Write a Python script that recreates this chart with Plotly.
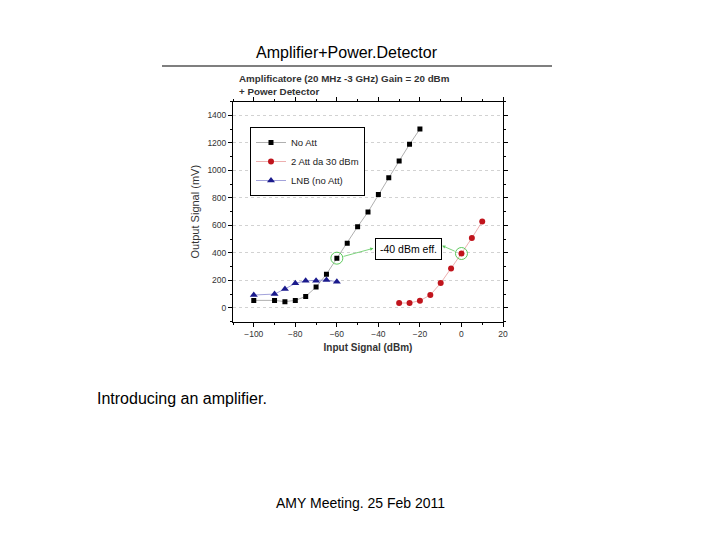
import plotly.graph_objects as go

# Input signal (dBm) and output signal (mV)
no_att_x = [-100, -90, -85, -80, -75, -70, -65, -60, -55, -50, -45, -40, -35, -30, -25, -20]
no_att_y = [55, 55, 46, 55, 84, 152, 246, 362, 470, 591, 698, 825, 946, 1069, 1190, 1301]

att_x = [-30, -25, -20, -15, -10, -5, 0, 5, 10]
att_y = [36, 36, 53, 94, 181, 287, 396, 509, 628]

lnb_x = [-100, -90, -85, -80, -75, -70, -65, -60]
lnb_y = [94, 101, 138, 179, 198, 198, 203, 191]

FONT = "Arial, Liberation Sans, sans-serif"

fig = go.Figure()

fig.add_trace(go.Scatter(x=no_att_x, y=no_att_y, name="No Att", mode="lines+markers",
                         line=dict(color="#9a9a9a", width=0.8),
                         marker=dict(symbol="square", size=5, color="black")))
fig.add_trace(go.Scatter(x=att_x, y=att_y, name="2 Att da 30 dBm", mode="lines+markers",
                         line=dict(color="#e89a9a", width=0.8),
                         marker=dict(symbol="circle", size=6, color="#c0141c")))
fig.add_trace(go.Scatter(x=lnb_x, y=lnb_y, name="LNB (no Att)", mode="lines+markers",
                         line=dict(color="#8a8ad0", width=0.8),
                         marker=dict(symbol="triangle-up", size=7, color="#1a1a8c")))

# green rings around the two points at the same effective input
fig.add_trace(go.Scatter(x=[no_att_x[7], att_x[6]], y=[no_att_y[7], att_y[6]], mode="markers",
                         marker=dict(symbol="circle-open", size=12, color="#5cc85c", line=dict(width=1)),
                         showlegend=False, hoverinfo="skip"))

tickfont = dict(family=FONT, size=8.5, color="#333")
fig.update_layout(
    template="none",
    width=720, height=540,
    paper_bgcolor="white", plot_bgcolor="white",
    margin=dict(l=0, r=0, t=0, b=0, pad=0),
    showlegend=True,
    legend=dict(x=250 / 720, y=1 - 127 / 540, xanchor="left", yanchor="top",
                bordercolor="black", borderwidth=1, bgcolor="white",
                font=dict(family=FONT, size=9.5, color="#222"),
                tracegroupgap=0, itemwidth=30),
    xaxis=dict(domain=[233 / 720, 503 / 720], range=[-110, 20], dtick=20, tick0=0, automargin=False,
               ticks="outside", ticklen=4, tickcolor="black", showline=True, linecolor="black",
               linewidth=1, mirror="allticks", showgrid=False, zeroline=False, tickfont=tickfont,
               minor=dict(ticks="outside", ticklen=2, dtick=10, tickcolor="black"),
               title=dict(text="<b>Input Signal (dBm)</b>", font=dict(family=FONT, size=10, color="#333"),
                          standoff=6)),
    yaxis=dict(domain=[1 - 321.7 / 540, 1 - 101.7 / 540], range=[-100, 1500], dtick=200, tick0=0,
               automargin=False, mirror="allticks",
               ticks="outside", ticklen=4, tickcolor="black", showline=True, linecolor="black",
               linewidth=1, showgrid=True, gridcolor="#d2d2d2", griddash="dot", gridwidth=1,
               zeroline=False, tickfont=tickfont,
               minor=dict(ticks="outside", ticklen=2, dtick=100, tickcolor="black"),
               title=dict(text="Output Signal (mV)", font=dict(family=FONT, size=11, color="#333"),
                          standoff=5)),
)

annotations = [
    # slide text
    dict(text="Amplifier+Power.Detector", x=347 / 720, y=1 - 52 / 540, xref="paper", yref="paper",
         xanchor="center", yanchor="middle", showarrow=False,
         font=dict(family=FONT, size=16, color="black")),
    dict(text="Introducing an amplifier.", x=95 / 720, y=1 - 398 / 540, xref="paper", yref="paper",
         xanchor="left", yanchor="middle", showarrow=False,
         font=dict(family=FONT, size=16, color="black")),
    dict(text="AMY Meeting. 25 Feb 2011", x=360 / 720, y=1 - 503 / 540, xref="paper", yref="paper",
         xanchor="center", yanchor="middle", showarrow=False,
         font=dict(family=FONT, size=14, color="black")),
    # chart title
    dict(text="<b>Amplificatore (20 MHz -3 GHz) Gain = 20 dBm<br>+ Power Detector</b>",
         x=237 / 720, y=1 - 71 / 540, xref="paper", yref="paper", xanchor="left", yanchor="top",
         align="left", showarrow=False, font=dict(family=FONT, size=9.8, color="#333")),
    # boxed label
    dict(text="-40 dBm eff.", x=-25.5, y=426, xref="x", yref="y", showarrow=False,
         bordercolor="black", borderwidth=1, borderpad=4, bgcolor="white",
         font=dict(family=FONT, size=10.5, color="black")),
    # green arrows from the rings to the label
    dict(text="", x=-42.4, y=434, ax=-57.5, ay=372, xref="x", yref="y", axref="x", ayref="y",
         showarrow=True, arrowhead=2, arrowsize=0.8, arrowwidth=0.8, arrowcolor="#5cc85c"),
    dict(text="", x=-9.3, y=453, ax=-2.5, ay=408, xref="x", yref="y", axref="x", ayref="y",
         showarrow=True, arrowhead=2, arrowsize=0.8, arrowwidth=0.8, arrowcolor="#5cc85c"),
]
fig.update_layout(annotations=annotations)

# rule under the slide title
fig.add_shape(type="line", xref="paper", yref="paper", x0=162 / 720, x1=552 / 720,
              y0=1 - 66 / 540, y1=1 - 66 / 540, line=dict(color="#555", width=1.5))

# drop the browser's default body margin so the figure sits at the page origin
fig.write_html("out.html", config={"displayModeBar": False},
               post_script="document.body.style.margin='0';")
